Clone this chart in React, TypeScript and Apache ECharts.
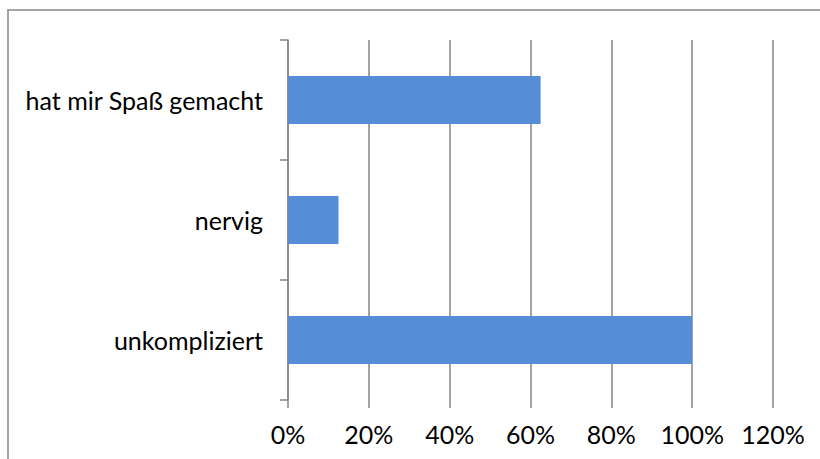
import React, { useEffect, useRef } from "react";
import * as echarts from "echarts";

const categories = ["unkompliziert", "nervig", "hat mir Spaß gemacht"];
const values = [100, 12.5, 62.5];
const xTicks = [0, 20, 40, 60, 80, 100, 120];

const FONT = "Lato";

export default function App() {
  const ref = useRef<HTMLDivElement>(null);
  useEffect(() => {
    const chart = echarts.init(ref.current!, undefined, { renderer: "svg" });
    chart.setOption({
      animation: false,
      backgroundColor: "#ffffff",
      graphic: [
        {
          type: "line",
          shape: { x1: 8, y1: 9.5, x2: 8, y2: 459 },
          style: { stroke: "#878787", lineWidth: 1.5 },
          silent: true,
        },
        {
          type: "line",
          shape: { x1: 7.25, y1: 10, x2: 820, y2: 10 },
          style: { stroke: "#878787", lineWidth: 1.5 },
          silent: true,
        },
      ],
      grid: { left: 288, right: 47, top: 40, bottom: 59, containLabel: false },
      xAxis: {
        type: "value",
        min: xTicks[0],
        max: xTicks[xTicks.length - 1],
        interval: 20,
        axisLine: { show: false },
        axisTick: { show: true, length: 8, lineStyle: { color: "#868686", width: 1.5 } },
        splitLine: { show: true, lineStyle: { color: "#868686", width: 1.5 } },
        axisLabel: {
          formatter: (v: number) => `${v}%`,
          color: "#000",
          fontFamily: FONT,
          fontSize: 25,
          margin: 21,
        },
      },
      yAxis: {
        type: "category",
        data: categories,
        axisLine: { show: true, lineStyle: { color: "#868686", width: 1.5 } },
        axisTick: { show: true, length: 8, lineStyle: { color: "#868686", width: 1.5 } },
        axisLabel: {
          color: "#000",
          fontFamily: FONT,
          fontSize: 25,
          margin: 25,
        },
      },
      series: [
        {
          type: "bar",
          data: values,
          barWidth: "40%",
          itemStyle: { color: "#558ED5" },
        },
      ],
    });
    return () => chart.dispose();
  }, []);
  return (
    <div
      ref={ref}
      style={{ width: 820, height: 459, position: "fixed", left: 0, top: 0 }}
    />
  );
}
